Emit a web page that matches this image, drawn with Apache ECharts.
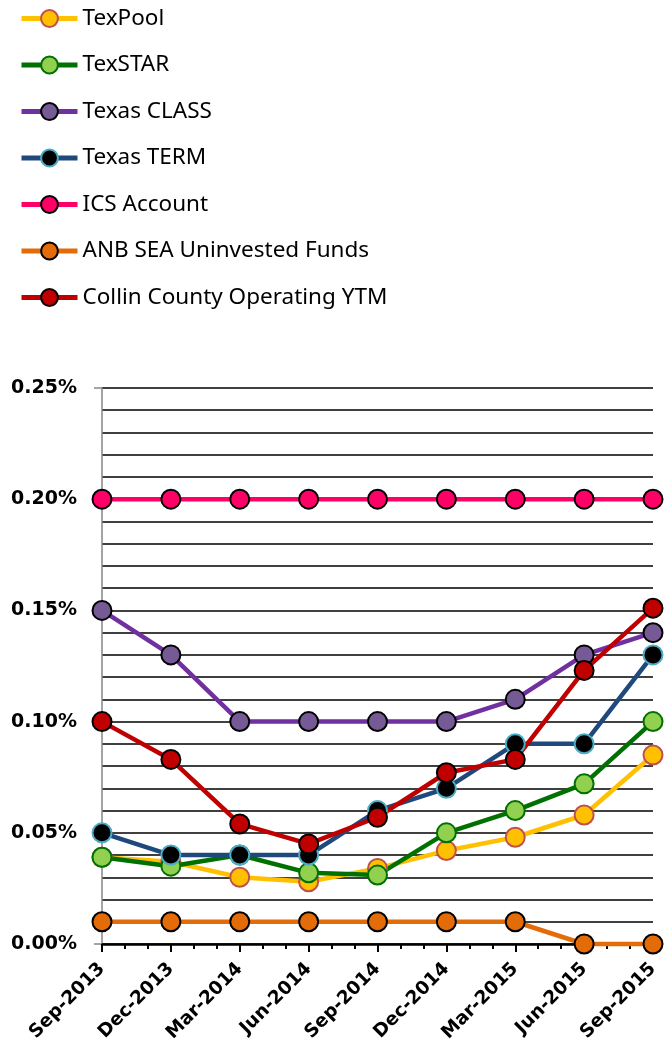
<!DOCTYPE html>
<html>
<head>
<meta charset="utf-8">
<script src="https://cdn.jsdelivr.net/npm/echarts@6/dist/echarts.min.js"></script>
<style>
html,body{margin:0;padding:0;background:#fff;}
#chart{width:672px;height:1053px;}
</style>
</head>
<body>
<div id="chart"></div>
<script>
var categories = ['Sep-2013','Dec-2013','Mar-2014','Jun-2014','Sep-2014','Dec-2014','Mar-2015','Jun-2015','Sep-2015'];
var monthIndex = [0,3,6,9,12,15,18,21,24];
var texPool   = [0.039,0.037,0.030,0.028,0.034,0.042,0.048,0.058,0.085];
var texStar   = [0.039,0.035,0.040,0.032,0.031,0.050,0.060,0.072,0.100];
var texasClass= [0.150,0.130,0.100,0.100,0.100,0.100,0.110,0.130,0.140];
var texasTerm = [0.050,0.040,0.040,0.040,0.060,0.070,0.090,0.090,0.130];
var icsAccount= [0.200,0.200,0.200,0.200,0.200,0.200,0.200,0.200,0.200];
var anbSea    = [0.010,0.010,0.010,0.010,0.010,0.010,0.010,0.000,0.000];
var collin    = [0.100,0.083,0.054,0.045,0.057,0.077,0.083,0.123,0.151];

function pts(arr){ return arr.map(function(v,i){ return [monthIndex[i], v]; }); }

var seriesDefs = [
  {name:'TexPool', data:texPool, line:'#FFC000', fill:'#FFC000', border:'#C0504D'},
  {name:'TexSTAR', data:texStar, line:'#007000', fill:'#92D050', border:'#007000'},
  {name:'Texas CLASS', data:texasClass, line:'#7030A0', fill:'#755A95', border:'#000000'},
  {name:'Texas TERM', data:texasTerm, line:'#1F497D', fill:'#000000', border:'#4BACC6'},
  {name:'ICS Account', data:icsAccount, line:'#FF0066', fill:'#FF0066', border:'#000000'},
  {name:'ANB SEA Uninvested Funds', data:anbSea, line:'#E36C09', fill:'#E36C09', border:'#000000'},
  {name:'Collin County Operating YTM', data:collin, line:'#C00000', fill:'#C00000', border:'#000000'}
];

var chart = echarts.init(document.getElementById('chart'), null, {renderer:'canvas'});
var option = {
  animation:false,
  backgroundColor:'#fff',
  legend:{
    orient:'vertical', left:19, top:7, padding:0,
    itemWidth:56, itemHeight:21, itemGap:23.5,
    lineStyle:{width:5},
    textStyle:{fontFamily:'Noto Sans', fontSize:22.5, lineHeight:21, color:'#000'},
    data: seriesDefs.map(function(s){return s.name;})
  },
  grid:{left:102, right:19, top:388, bottom:109, containLabel:false},
  xAxis:{
    type:'value', min:0, max:24, interval:3,
    axisLine:{show:true, lineStyle:{color:'#000', width:2.5}},
    axisTick:{show:true, length:8, lineStyle:{color:'#000', width:2}},
    minorTick:{show:true, splitNumber:3, length:5, lineStyle:{color:'#000', width:2}},
    splitLine:{show:false},
    axisLabel:{
      rotate:45, margin:22, fontFamily:'DejaVu Sans', fontWeight:'bold', fontSize:18.5, color:'#000',
      formatter:function(v){ var i = monthIndex.indexOf(Math.round(v)); return i>=0 ? categories[i] : ''; }
    }
  },
  yAxis:{
    type:'value', min:0, max:0.25, interval:0.05,
    axisLine:{show:true, lineStyle:{color:'#868686', width:1.5}},
    axisTick:{show:true, length:8, lineStyle:{color:'#868686', width:1.5}},
    minorTick:{show:false, splitNumber:5},
    splitLine:{show:true, lineStyle:{color:'#000', width:1.5}},
    minorSplitLine:{show:true, lineStyle:{color:'#000', width:1.5}},
    axisLabel:{
      margin:25, fontFamily:'DejaVu Sans', fontWeight:'bold', fontSize:19, color:'#000',
      formatter:function(v){ return v.toFixed(2)+'%'; }
    }
  },
  series: seriesDefs.map(function(s){
    return {
      name:s.name, type:'line', data:pts(s.data), clip:false,
      symbol:'circle', symbolSize:19,
      lineStyle:{color:s.line, width:4.5},
      itemStyle:{color:s.fill, borderColor:s.border, borderWidth:2},
      emphasis:{disabled:true}
    };
  })
};
chart.setOption(option);
</script>
</body>
</html>
